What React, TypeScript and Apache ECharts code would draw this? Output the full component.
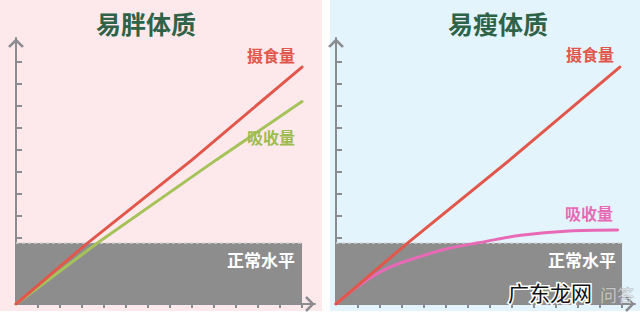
import React, { useEffect, useRef } from "react";
import * as echarts from "echarts";

// Tick positions along each axis (no labels are shown)
const xTicks = [1, 2, 3, 4, 5, 6, 7, 8, 9, 10, 11, 12, 13];
const yTicks = [1, 2, 3, 4, 5, 6, 7, 8, 9, 10, 11];

// Upper bound of the "normal" band
const normalLevel = 2.77;
const normalSpan = [0, 13];

// 易胖体质: intake vs absorption
const intakeFat: [number, number][] = [[0, 0], [3.25, 2.77], [8, 6.55], [13, 10.77]];
const absorbFat: [number, number][] = [[0, 0], [3.7, 2.77], [9.1, 6.55], [13, 9.2]];

// 易瘦体质: intake vs absorption
const intakeThin: [number, number][] = [[0, 0], [3.25, 2.77], [7.9, 6.55], [12.9, 10.77]];
const absorbThin: [number, number][] = [
  [0, 0], [0.6, 0.5], [1.5, 1.15], [2.5, 1.7], [3.8, 2.15], [5, 2.5],
  [6.4, 2.77], [8.4, 3.12], [10.6, 3.32], [12.8, 3.36],
];

const AXIS = "#8b8c90";
const RED = "#e2574c";
const GREEN = "#a6c25a";
const PINK = "#e86ab6";
const GRAY = "#8d8d8d";
const FONT = "'Noto Sans CJK SC', 'Noto Sans', sans-serif";

const arrow = "path://M10,0 L20,10 L17.4,12 L10,4.6 L2.6,12 L0,10 Z";

function xAxis(gridIndex: number) {
  return {
    type: "value",
    gridIndex,
    min: 0,
    max: 13.59,
    splitLine: { show: false },
    axisLabel: { show: false },
    axisLine: {
      show: true,
      onZero: false,
      symbol: ["none", arrow],
      symbolSize: [16, 10],
      symbolOffset: [0, -5],
      lineStyle: { color: AXIS, width: 2 },
    },
    axisTick: { show: true, customValues: xTicks, length: 4, lineStyle: { color: AXIS, width: 2 } },
  };
}

function yAxis(gridIndex: number) {
  return {
    type: "value",
    gridIndex,
    min: 0,
    max: 12.09,
    splitLine: { show: false },
    axisLabel: { show: false },
    axisLine: {
      show: true,
      onZero: false,
      symbol: ["none", arrow],
      symbolSize: [16, 10],
      symbolOffset: [0, -5],
      lineStyle: { color: AXIS, width: 2 },
    },
    axisTick: {
      show: true,
      inside: true,
      customValues: yTicks,
      length: 6,
      lineStyle: { color: AXIS, width: 2 },
    },
  };
}

function normalBand(index: number) {
  return {
    type: "line",
    xAxisIndex: index,
    yAxisIndex: index,
    z: 1,
    silent: true,
    symbol: "none",
    data: normalSpan.map((x) => [x, normalLevel]),
    lineStyle: { color: "#d4d4d4", width: 1.5, type: [3, 3] },
    areaStyle: { color: GRAY, opacity: 1, origin: "start" },
  };
}

function curve(index: number, data: [number, number][], color: string, smooth = false) {
  return {
    type: "line",
    xAxisIndex: index,
    yAxisIndex: index,
    z: 3,
    symbol: "none",
    smooth: smooth ? 0.3 : false,
    data,
    lineStyle: { color, width: 3, cap: "round" },
  };
}

function label(text: string, x: number, y: number, color: string, size: number) {
  return {
    type: "text",
    z: 100,
    x,
    y,
    style: {
      text,
      fill: color,
      font: `bold ${size}px ${FONT}`,
      textAlign: "center",
      textVerticalAlign: "middle",
    },
  };
}

export default function App() {
  const ref = useRef<HTMLDivElement>(null);

  useEffect(() => {
    if (!ref.current) return;
    const chart = echarts.init(ref.current, undefined, { renderer: "svg" });
    chart.setOption({
      animation: false,
      backgroundColor: "transparent",
      grid: [
        { left: 16, top: 38, width: 299, height: 266, outerBoundsMode: "none", containLabel: false },
        { left: 336, top: 38, width: 299, height: 266, outerBoundsMode: "none", containLabel: false },
      ],
      xAxis: [xAxis(0), xAxis(1)],
      yAxis: [yAxis(0), yAxis(1)],
      series: [
        normalBand(0),
        curve(0, absorbFat, GREEN),
        curve(0, intakeFat, RED),
        normalBand(1),
        curve(1, absorbThin, PINK, true),
        curve(1, intakeThin, RED),
      ],
      graphic: [
        label("易胖体质", 146, 23, "#2e6347", 25),
        label("易瘦体质", 498, 23, "#2e6347", 25),
        label("摄食量", 271, 55, RED, 16),
        label("吸收量", 271, 137, "#9dbb4e", 16),
        label("摄食量", 590, 54, RED, 16),
        label("吸收量", 589, 213, PINK, 16),
        label("正常水平", 261, 259, "#ffffff", 17),
        label("正常水平", 582, 259, "#ffffff", 17),
        {
          type: "text",
          z: 99,
          x: 617,
          y: 294,
          style: {
            text: "问答",
            fill: "rgba(255,255,255,0.55)",
            stroke: "rgba(120,120,120,0.45)",
            lineWidth: 1,
            font: `17px ${FONT}`,
            textAlign: "center",
            textVerticalAlign: "middle",
          },
        },
        {
          type: "text",
          z: 101,
          x: 550,
          y: 292,
          style: {
            text: "广东龙网",
            fill: "#111111",
            stroke: "#ffffff",
            lineWidth: 3,
            font: `21px ${FONT}`,
            textAlign: "center",
            textVerticalAlign: "middle",
          },
        },
      ],
    });
    return () => chart.dispose();
  }, []);

  return (
    <div style={{ position: "fixed", left: 0, top: 0, width: 640, height: 320, background: "#ffffff" }}>
      <div style={{ position: "absolute", left: 0, top: 0, width: 322, height: 311, background: "#fde9eb" }} />
      <div style={{ position: "absolute", left: 330, top: 0, width: 310, height: 311, background: "#e4f4fc" }} />
      <div ref={ref} style={{ position: "absolute", left: 0, top: 0, width: 640, height: 320 }} />
    </div>
  );
}
